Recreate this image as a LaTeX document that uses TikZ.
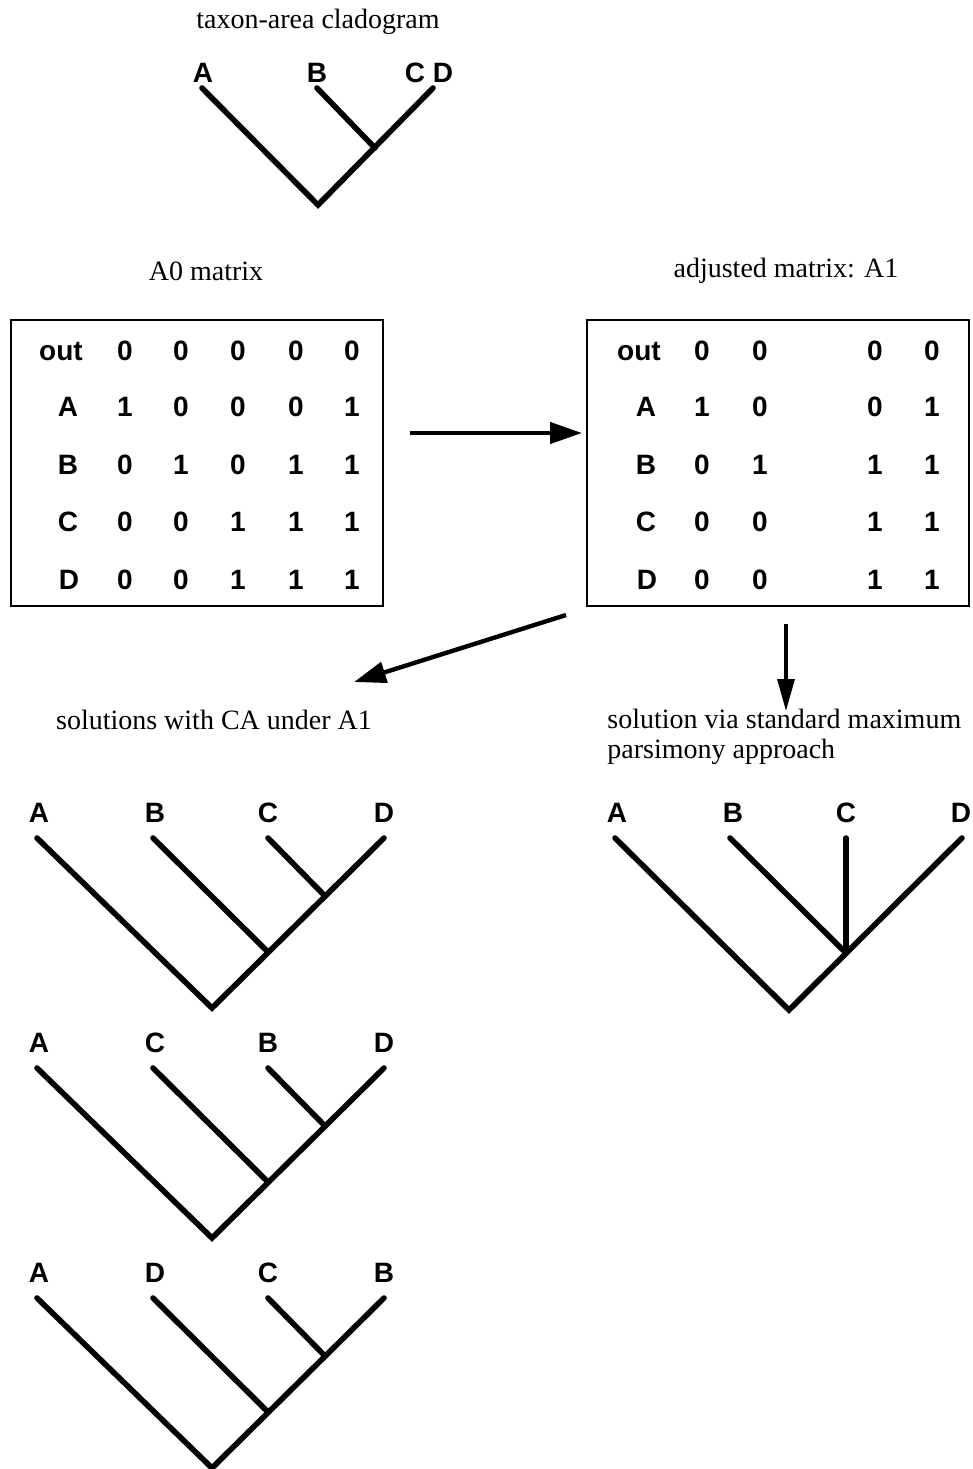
\documentclass[tikz,border=0pt]{standalone}
\usepackage{fontspec}
\setmainfont{Liberation Serif}
\newfontfamily\labfont{Liberation Sans}
\usetikzlibrary{positioning, arrows.meta}

\begin{document}
\begin{tikzpicture}[
        x=0.5pt, y=-0.5pt,
        every node/.style={inner sep=0pt},
        caption/.style={font=\fontsize{14}{15}\selectfont},
        cell/.style={font=\labfont\bfseries\fontsize{14}{15}\selectfont},
        taxon/.style={font=\labfont\bfseries\fontsize{14}{15}\selectfont},
        branch/.style={line width=2.8pt, line cap=round},
        frame/.style={draw, line width=0.7pt},
        link/.style={line width=2.2pt, -{Triangle[length=16pt,width=10.5pt]}}]

        \useasboundingbox (0,0) rectangle (973,1469);

        % taxon-area cladogram
        \node[caption] (title) at (318,22) {taxon-area cladogram};
        \node[taxon] (tA) at (203,73) {A};
        \node[taxon] (tB) at (317,73) {B};
        \node[taxon] (tCD) at (429,73) {C D};
        \coordinate (tipA) at (202,88);
        \coordinate (tipB) at (317,88);
        \coordinate (tipCD) at (433,88);
        \coordinate (troot) at (318,205);
        \coordinate (tjoin) at (375,148);
        \draw[branch] (tipA) -- (troot) -- (tipCD);
        \draw[branch] (tipB) -- (tjoin);

        % the two matrices
        \node[caption] (A0) at (206,271) {A0 matrix};
        \node[caption] (A1) at (786,271) {adjusted matrix: A1};
        \node[frame, minimum width=186pt, minimum height=143pt] (A0box) at (197,463) {};
        \node[frame, minimum width=191pt, minimum height=143pt] (A1box) at (778,463) {};

        \foreach \r/\x/\y/\a/\b/\c/\d/\e in {out/61/351/0/0/0/0/0, A/68/407/1/0/0/0/1,
            B/68/465/0/1/0/1/1, C/68/522/0/0/1/1/1, D/69/580/0/0/1/1/1}{
            \node[cell] (l-\r) at (\x,\y) {\r};
            \node[cell] (l-\r-1) at (125,\y) {\a};
            \node[cell] (l-\r-2) at (181,\y) {\b};
            \node[cell] (l-\r-3) at (238,\y) {\c};
            \node[cell] (l-\r-4) at (296,\y) {\d};
            \node[cell] (l-\r-5) at (352,\y) {\e};
            \node[cell] (r-\r) at (\x+578,\y) {\r};
            \node[cell] (r-\r-1) at (702,\y) {\a};
            \node[cell] (r-\r-2) at (760,\y) {\b};
            \node[cell] (r-\r-4) at (875,\y) {\d};
            \node[cell] (r-\r-5) at (932,\y) {\e};
        }

        % arrows
        \coordinate (h1) at (410,433);
        \coordinate (h2) at (582,433);
        \coordinate (d1) at (566,615);
        \coordinate (d2) at (354,682);
        \coordinate (v1) at (786,624);
        \coordinate (v2) at (786,711);
        \draw[link] (h1) -- (h2);
        \draw[link] (d1) -- (d2);
        \draw[link, line width=1.6pt, -{Triangle[length=16pt,width=8.5pt]}] (v1) -- (v2);

        % solutions with CA
        \node[caption] (ca) at (214,720) {solutions with CA under A1};
        \foreach \i/\p/\q/\s/\t in {0/A/B/C/D, 1/A/C/B/D, 2/A/D/C/B}{
            \pgfmathsetmacro{\tip}{838+230*\i}
            \node[taxon] (s\i-1) at (39,\tip-25) {\p};
            \node[taxon] (s\i-2) at (155,\tip-25) {\q};
            \node[taxon] (s\i-3) at (268,\tip-25) {\s};
            \node[taxon] (s\i-4) at (384,\tip-25) {\t};
            \coordinate (s\i-a) at (37,\tip);
            \coordinate (s\i-b) at (153,\tip);
            \coordinate (s\i-c) at (268,\tip);
            \coordinate (s\i-d) at (384,\tip);
            \coordinate (s\i-root) at (212,\tip+170);
            \coordinate (s\i-j1) at (268,\tip+114);
            \coordinate (s\i-j2) at (324,\tip+57);
            \draw[branch] (s\i-a) -- (s\i-root) -- (s\i-d);
            \draw[branch] (s\i-b) -- (s\i-j1);
            \draw[branch] (s\i-c) -- (s\i-j2);
        }

        % standard maximum parsimony
        \node[caption, anchor=west, align=left] (mp) at (607,737)
            {solution via standard maximum\\parsimony approach};
        \node[taxon] (mA) at (617,813) {A};
        \node[taxon] (mB) at (733,813) {B};
        \node[taxon] (mC) at (846,813) {C};
        \node[taxon] (mD) at (961,813) {D};
        \coordinate (mpA) at (615,838);
        \coordinate (mpB) at (730,838);
        \coordinate (mpC) at (846,838);
        \coordinate (mpD) at (962,838);
        \coordinate (mproot) at (789,1010);
        \coordinate (mpjoin) at (846,953);
        \draw[branch] (mpA) -- (mproot) -- (mpD);
        \draw[branch] (mpB) -- (mpjoin);
        \draw[branch] (mpC) -- (mpjoin);

    \end{tikzpicture}
\end{document}
